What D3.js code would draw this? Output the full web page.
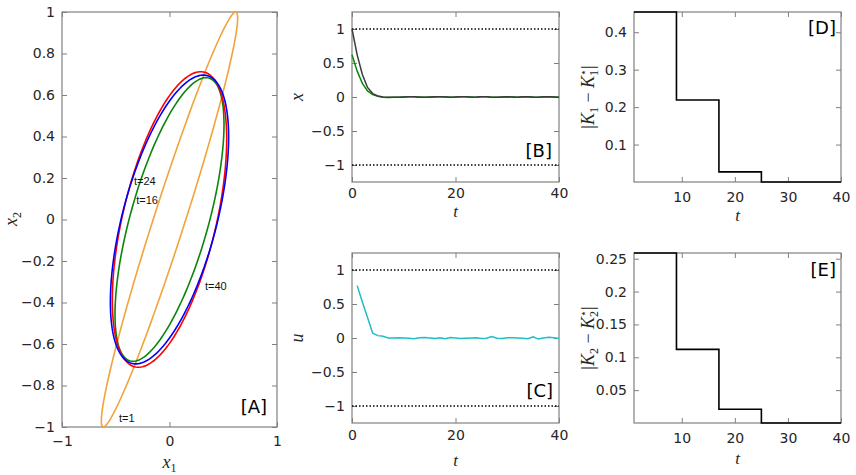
<!DOCTYPE html>
<html>
<head>
<meta charset="utf-8">
<script src="https://cdn.jsdelivr.net/npm/d3@7"></script>
<style>
body{margin:0;background:#fff;}
text{font-family:"DejaVu Sans",sans-serif;}
</style>
</head>
<body>
<div id="mainbox"></div>
<script>
// ellipses in panel A, shape matrix Q = [[q11,q12],[q12,q22]]
const ellipseT = [1, 16, 24, 40];
const ellipseQ11 = [0.402, 0.257, 0.283, 0.3025];
const ellipseQ12 = [0.6155, 0.232, 0.2065, 0.2185];
const ellipseQ22 = [1.0, 0.467, 0.507, 0.484];
const ellipseColor = ['#f2a33a', '#0a840a', '#ff0000', '#0000ff'];

// panel B : states
const tState = d3.range(0, 41);
const xBlack = [1.00,0.62,0.33,0.14,0.05,0.015,0.000,-0.005,-0.004,-0.002,0.000,0.003,0.002,-0.002,-0.004,0.000,0.002,0.004,0.001,-0.003,0.000,0.003,0.002,-0.002,0.000,0.004,0.002,-0.004,-0.003,0.001,0.003,0.000,-0.002,0.002,0.004,-0.003,-0.002,0.002,0.003,0.000,-0.003];
const xGreen = [0.62,0.38,0.20,0.09,0.035,0.010,-0.004,-0.006,-0.005,-0.003,-0.001,0.002,0.003,0.000,-0.003,-0.002,0.001,0.003,0.002,-0.002,-0.001,0.002,0.003,0.000,-0.002,0.002,0.003,-0.002,-0.004,0.000,0.002,0.001,-0.003,0.000,0.003,-0.001,-0.003,0.001,0.002,0.001,-0.002];

// panel C : input
const tInput = d3.range(1, 41);
const uCyan = [0.77,0.53,0.30,0.07,0.035,0.025,0.000,0.000,0.004,0.000,-0.004,-0.010,0.004,0.006,0.000,-0.008,0.002,-0.010,0.008,0.000,-0.008,-0.004,0.000,0.002,-0.008,-0.004,0.022,-0.004,-0.006,0.004,0.005,0.000,-0.004,-0.010,0.018,-0.016,0.000,0.010,0.002,-0.008];
const bounds = [-1, 1];

// panels D, E : gain errors
const stepT = [1, 9, 17, 25, 40];
const k1Err = [0.454, 0.219, 0.027, 0.0, 0.0];
const k2Err = [0.2587, 0.112, 0.021, 0.0, 0.0];

// ticks
const ticksAx = [-1, 0, 1];
const ticksAy = [-1, -0.8, -0.6, -0.4, -0.2, 0, 0.2, 0.4, 0.6, 0.8, 1];
const ticksBx = [0, 20, 40];
const ticksBy = [-1, -0.5, 0, 0.5, 1];
const ticksDx = [10, 20, 30, 40];
const ticksDy = [0.1, 0.2, 0.3, 0.4];
const ticksEy = [0.05, 0.1, 0.15, 0.2, 0.25];

const W = 856, H = 475;
const svg = d3.select('#mainbox').append('svg').attr('width', W).attr('height', H);

const fmt = d => (d < 0 ? '\u2212' : '') + String(+Math.abs(d).toFixed(2));
const boxCol = '#808080', txtCol = '#262626';

function panel(id, box, xDom, yDom, xTicks, yTicks, xPad) {
	const sx = d3.scaleLinear().domain(xDom).range([box.l, box.r]);
	const sy = d3.scaleLinear().domain(yDom).range([box.b, box.t]);
	const g = svg.append('g');

	svg.append('clipPath').attr('id', 'clip' + id)
		.append('rect')
		.attr('x', box.l - 2).attr('y', box.t - 2)
		.attr('width', box.r - box.l + 4).attr('height', box.b - box.t + 4);

	const axes = [
		[d3.axisBottom(sx).tickValues(xTicks).tickFormat(fmt).tickPadding(xPad), `translate(0,${box.b})`],
		[d3.axisTop(sx).tickValues(xTicks).tickFormat(''), `translate(0,${box.t})`],
		[d3.axisLeft(sy).tickValues(yTicks).tickFormat(fmt).tickPadding(7), `translate(${box.l},0)`],
		[d3.axisRight(sy).tickValues(yTicks).tickFormat(''), `translate(${box.r},0)`]
	];
	axes.forEach(([ax, tr]) => {
		const a = g.append('g').attr('transform', tr)
			.call(ax.tickSizeInner(-5).tickSizeOuter(0));
		a.select('.domain').remove();
		a.selectAll('line').attr('stroke', boxCol);
		a.selectAll('text').attr('fill', txtCol).style('font-size', '14px')
			.style('font-family', '"DejaVu Sans",sans-serif');
	});

	g.append('rect')
		.attr('x', box.l).attr('y', box.t)
		.attr('width', box.r - box.l).attr('height', box.b - box.t)
		.attr('fill', 'none').attr('stroke', boxCol).attr('stroke-width', 1.2);

	const plot = svg.append('g').attr('clip-path', `url(#clip${id})`);
	return {sx, sy, plot};
}

function mathText(x, y, parts, rotate, size) {
	const t = svg.append('text')
		.attr('transform', `translate(${x},${y})` + (rotate ? ' rotate(-90)' : ''))
		.attr('text-anchor', 'middle')
		.attr('fill', txtCol)
		.style('font-family', '"Liberation Serif",serif')
		.style('font-size', (size || 18) + 'px');
	parts.forEach(p => {
		t.append('tspan')
			.attr('dx', p.dx || 0)
			.attr('dy', p.dy || 0)
			.style('font-style', p.it ? 'italic' : 'normal')
			.style('font-size', p.s ? p.s + 'px' : null)
			.text(p.t);
	});
}

function tag(x, y, s) {
	svg.append('text').attr('x', x).attr('y', y)
		.attr('text-anchor', 'end').attr('fill', '#000')
		.style('font-size', '18px').text(s);
}

// ---------- panel A ----------
const A = panel('A', {l: 62, r: 277, t: 12, b: 427}, [-1, 1], [-1, 1], ticksAx, ticksAy, 9);
const theta = d3.range(0, 361, 2).map(d => d * Math.PI / 180);
const ellLine = d3.line().x(d => A.sx(d[0])).y(d => A.sy(d[1]));
ellipseT.forEach((t, i) => {
	// Cholesky factor of Q
	const a = Math.sqrt(ellipseQ11[i]);
	const b = ellipseQ12[i] / a;
	const c = Math.sqrt(ellipseQ22[i] - b * b);
	const pts = theta.map(th => [a * Math.cos(th), b * Math.cos(th) + c * Math.sin(th)]);
	A.plot.append('path')
		.attr('d', ellLine(pts))
		.attr('fill', 'none')
		.attr('stroke', ellipseColor[i])
		.attr('stroke-width', 1.6);
});
const annA = [[-0.33, 0.185, 't=24'], [-0.31, 0.096, 't=16'], [0.33, -0.32, 't=40'], [-0.47, -0.957, 't=1']];
annA.forEach(d => {
	svg.append('text').attr('x', A.sx(d[0])).attr('y', A.sy(d[1]))
		.attr('dominant-baseline', 'central')
		.attr('fill', '#111')
		.style('font-family', '"Liberation Sans",sans-serif')
		.style('font-size', '11px').text(d[2]);
});
mathText(169.5, 468, [{t: 'x', it: true}, {t: '1', s: 12, dy: 4}]);
mathText(17, 219, [{t: 'x', it: true}, {t: '2', s: 12, dy: 4}], true);
tag(267, 413, '[A]');

// ---------- panel B ----------
const B = panel('B', {l: 352, r: 559, t: 12, b: 182}, [0, 40], [-1.25, 1.25], ticksBx, ticksBy, 6);
const lineB = d3.line().x((d, i) => B.sx(tState[i])).y(d => B.sy(d));
bounds.forEach(v => {
	B.plot.append('line')
		.attr('x1', B.sx(0)).attr('x2', B.sx(40))
		.attr('y1', B.sy(v)).attr('y2', B.sy(v))
		.attr('stroke', '#000').attr('stroke-width', 1.5).attr('stroke-dasharray', '1.5,2');
});
B.plot.append('path').attr('d', lineB(xGreen))
	.attr('fill', 'none').attr('stroke', '#0a8a0a').attr('stroke-width', 1.5);
B.plot.append('path').attr('d', lineB(xBlack))
	.attr('fill', 'none').attr('stroke', '#3c3c3c').attr('stroke-width', 1.5);
mathText(303, 97, [{t: 'x', it: true}], true);
mathText(455.5, 217, [{t: 't', it: true}], false, 17);
tag(552, 157, '[B]');

// ---------- panel C ----------
const C = panel('C', {l: 352, r: 559, t: 253, b: 423}, [0, 40], [-1.25, 1.25], ticksBx, ticksBy, 7);
bounds.forEach(v => {
	C.plot.append('line')
		.attr('x1', C.sx(0)).attr('x2', C.sx(40))
		.attr('y1', C.sy(v)).attr('y2', C.sy(v))
		.attr('stroke', '#000').attr('stroke-width', 1.5).attr('stroke-dasharray', '1.5,2');
});
C.plot.append('path')
	.attr('d', d3.line().x((d, i) => C.sx(tInput[i])).y(d => C.sy(d))(uCyan))
	.attr('fill', 'none').attr('stroke', '#1dbfc6').attr('stroke-width', 1.5);
mathText(303, 338, [{t: 'u', it: true}], true);
mathText(455.5, 466, [{t: 't', it: true}], false, 17);
tag(553, 397, '[C]');

// ---------- panels D and E ----------
function stepPanel(id, box, yDom, yTicks, err, sub, lblY, tagY, tagS) {
	const P = panel(id, box, [1, 40], yDom, ticksDx, yTicks, 10);
	P.plot.append('path')
		.attr('d', d3.line().curve(d3.curveStepAfter)
			.x((d, i) => P.sx(stepT[i])).y(d => P.sy(d))(err))
		.attr('fill', 'none').attr('stroke', '#000').attr('stroke-width', 1.6);
	mathText(594, (box.t + box.b) / 2, [
		{t: '|'}, {t: 'K', it: true}, {t: sub, s: 12, dy: 4},
		{t: ' \u2212 ', dy: -4}, {t: 'K', it: true}, {t: sub, s: 12, dy: 4},
		{t: '\u22C6', s: 11, dx: -6, dy: -11}, {t: '|', dy: 7}
	], true);
	mathText(737.5, lblY, [{t: 't', it: true}], false, 17);
	tag(836, tagY, tagS);
}
stepPanel('D', {l: 634, r: 841, t: 12, b: 182}, [0, 0.454], ticksDy, k1Err, '1', 221, 34, '[D]');
stepPanel('E', {l: 634, r: 841, t: 253, b: 423}, [0, 0.2587], ticksEy, k2Err, '2', 464, 276, '[E]');
</script>
</body>
</html>
